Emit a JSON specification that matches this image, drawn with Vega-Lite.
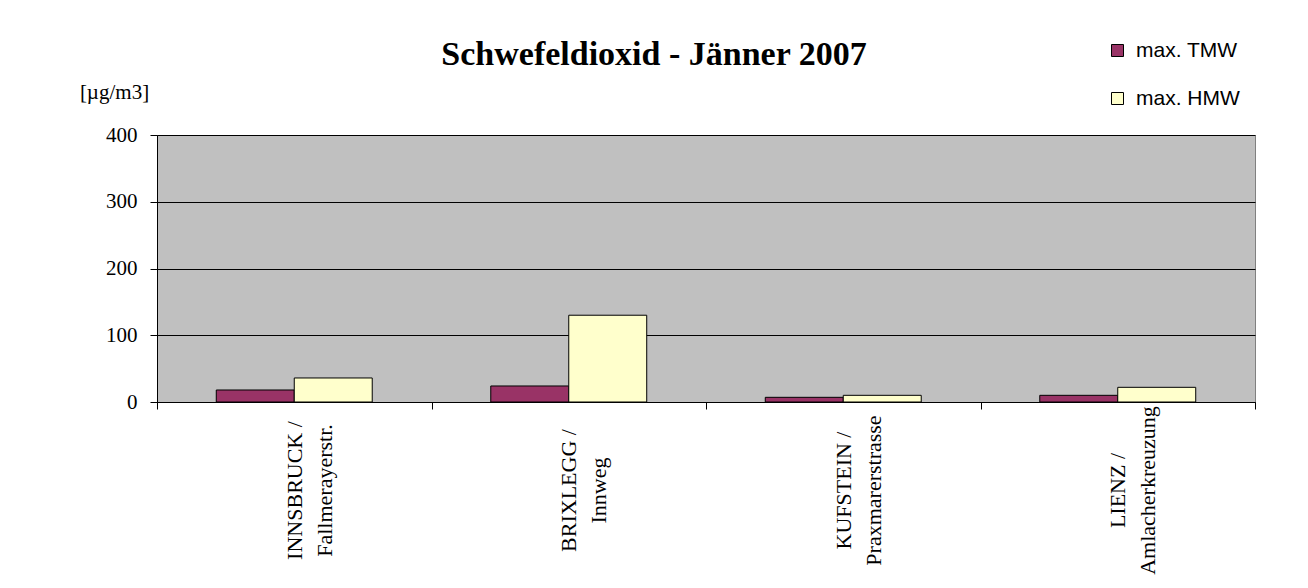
{
  "$schema": "https://vega.github.io/schema/vega-lite/v6.json",
  "width": 1098,
  "height": 267,
  "autosize": {"type": "none"},
  "padding": {"left": 157, "top": 135, "right": 53, "bottom": 186},
  "background": "white",
  "title": {
    "text": "Schwefeldioxid - Jänner 2007",
    "font": "Liberation Serif",
    "fontSize": 34,
    "fontWeight": "bold",
    "color": "black",
    "anchor": "middle",
    "frame": "group",
    "dx": -52,
    "dy": 52,
    "offset": 20
  },
  "data": {
    "values": [
      {"station": "INNSBRUCK / Fallmerayerstr.", "series": "max. TMW", "value": 18},
      {"station": "INNSBRUCK / Fallmerayerstr.", "series": "max. HMW", "value": 36},
      {"station": "BRIXLEGG / Innweg", "series": "max. TMW", "value": 24},
      {"station": "BRIXLEGG / Innweg", "series": "max. HMW", "value": 130},
      {"station": "KUFSTEIN / Praxmarerstrasse", "series": "max. TMW", "value": 7},
      {"station": "KUFSTEIN / Praxmarerstrasse", "series": "max. HMW", "value": 10},
      {"station": "LIENZ / Amlacherkreuzung", "series": "max. TMW", "value": 10},
      {"station": "LIENZ / Amlacherkreuzung", "series": "max. HMW", "value": 22}
    ]
  },
  "mark": {"type": "bar", "stroke": "black", "strokeWidth": 1},
  "encoding": {
    "x": {
      "field": "station",
      "type": "nominal",
      "sort": null,
      "scale": {"paddingInner": 0, "paddingOuter": 0},
      "axis": {
        "title": null,
        "labelAngle": 270,
        "labelAlign": "center",
        "labelBaseline": "middle",
        "labelPadding": 81,
        "labelFont": "Liberation Serif",
        "labelFontSize": 22,
        "labelColor": "black",
        "labelLineHeight": 30,
        "labelLimit": 0,
        "labelOverlap": false,
        "labelExpr": "datum.label ? [split(datum.label, ' / ')[0] + ' /', split(datum.label, ' / ')[1]] : ''",
        "tickBand": "extent",
        "tickSize": 7,
        "tickColor": "black",
        "domainColor": "black",
        "grid": false
      }
    },
    "xOffset": {
      "field": "series",
      "type": "nominal",
      "sort": ["max. TMW", "max. HMW"],
      "scale": {"paddingInner": 0, "paddingOuter": 0.76}
    },
    "y": {
      "field": "value",
      "type": "quantitative",
      "scale": {"domain": [0, 400], "nice": false},
      "axis": {
        "values": [0, 100, 200, 300, 400],
        "title": "[µg/m3]",
        "titleAngle": 0,
        "titleAlign": "center",
        "titleBaseline": "alphabetic",
        "titleX": -43,
        "titleY": -37,
        "titleFont": "Liberation Serif",
        "titleFontSize": 21,
        "titleFontWeight": "normal",
        "titleColor": "black",
        "labelFont": "Liberation Serif",
        "labelFontSize": 21,
        "labelColor": "black",
        "labelPadding": 13,
        "tickSize": 7,
        "tickColor": "black",
        "domainColor": "black",
        "grid": true,
        "gridColor": "black",
        "gridWidth": 1
      }
    },
    "color": {
      "field": "series",
      "type": "nominal",
      "scale": {"domain": ["max. TMW", "max. HMW"], "range": ["#993366", "#FFFFCC"]},
      "legend": {
        "title": null,
        "orient": "none",
        "legendX": 950,
        "legendY": -95,
        "symbolType": "square",
        "symbolSize": 144,
        "symbolStrokeColor": "black",
        "symbolStrokeWidth": 1,
        "labelFont": "Liberation Sans",
        "labelFontSize": 21,
        "labelColor": "black",
        "labelOffset": 8,
        "rowPadding": 26
      }
    }
  },
  "config": {
    "view": {"fill": "#C0C0C0", "stroke": "#808080", "strokeWidth": 1}
  }
}
